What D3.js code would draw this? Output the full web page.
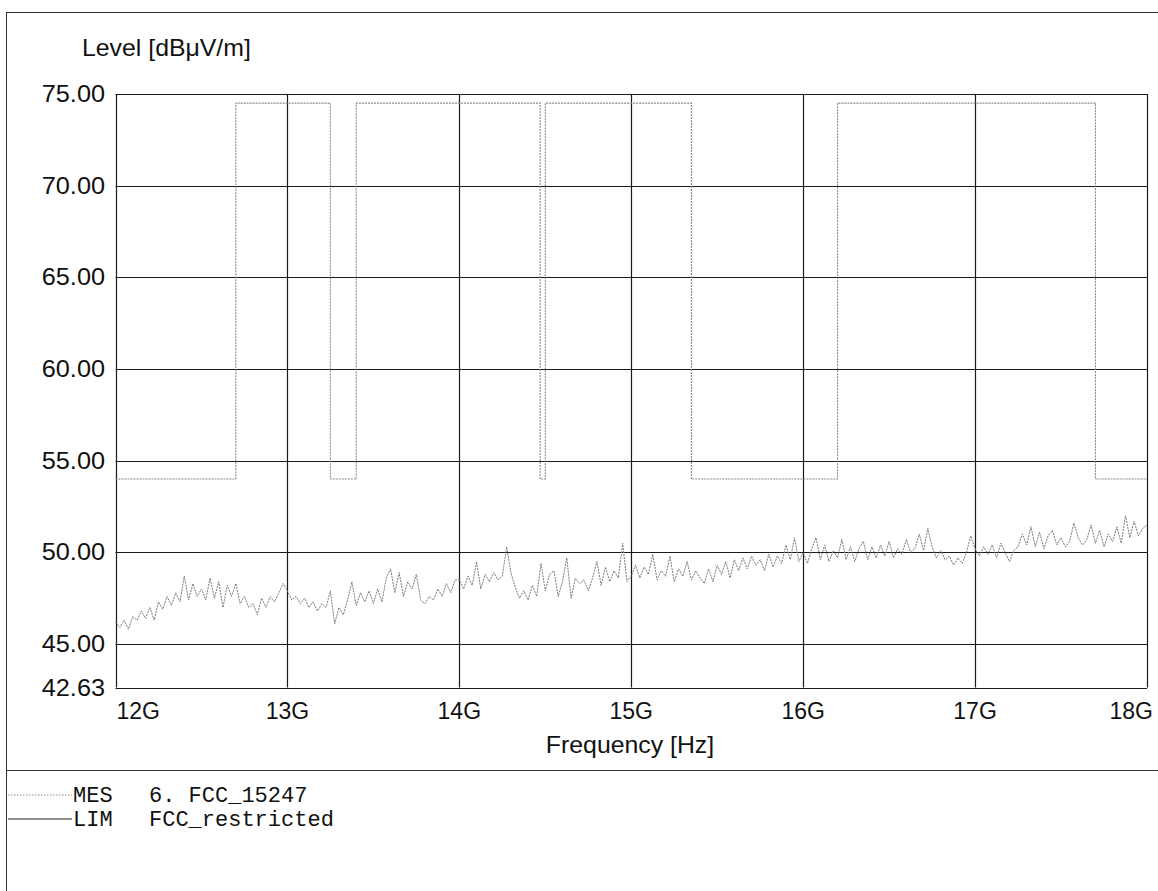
<!DOCTYPE html>
<html><head><meta charset="utf-8">
<script src="https://cdn.jsdelivr.net/npm/d3@7"></script>
<style>
html,body{margin:0;padding:0;background:#fff;}
svg{display:block;}
text{font-family:"Liberation Sans",Arial,sans-serif;fill:#111;}
.mono{font-family:"Liberation Mono","Courier New",monospace;}
</style></head>
<body>
<svg id="chart" width="1158" height="891"></svg>
<script>
// ---- data ----
const xTickValues = [12, 13, 14, 15, 16, 17, 18];
const xTickLabels = ["12G", "13G", "14G", "15G", "16G", "17G", "18G"];
const yTickValues = [75, 70, 65, 60, 55, 50, 45, 42.63];
const yTickLabels = ["75.00", "70.00", "65.00", "60.00", "55.00", "50.00", "45.00", "42.63"];

// limit line FCC_restricted (step after)
const limFreqGHz = [12, 12.7, 13.25, 13.4, 14.47, 14.5, 15.35, 16.2, 17.7, 18];
const limLevel   = [54, 74.5, 54, 74.5, 54, 74.5, 54, 74.5, 54, 54];

// measurement sweep MES 6. FCC_15247 (12 GHz .. 18 GHz, 0.025 GHz spacing)
const mesStartGHz = 12;
const mesStepGHz = 0.025;
const mesLevel = [
 46.2,45.9,46.3,45.8,46.5,46.3,46.8,46.4,47.0,46.3,47.3,46.9,47.6,47.1,47.8,47.3,48.7,47.4,48.3,47.6,
 48.0,47.4,48.6,47.5,48.4,47.0,48.2,47.6,48.3,47.2,47.6,47.0,47.2,46.6,47.5,47.0,47.6,47.3,47.8,48.3,
 47.9,47.4,47.6,47.2,47.5,47.0,47.3,46.8,47.2,47.0,47.9,46.1,47.0,46.6,47.4,48.4,47.1,47.8,47.3,47.9,
 47.2,48.0,47.3,48.6,49.1,47.8,48.9,47.6,48.4,48.0,48.8,47.4,47.2,47.6,47.4,48.0,47.6,48.3,47.8,48.5,
 48.5,48.0,48.7,48.2,49.5,48.0,48.8,48.4,48.9,48.5,48.7,50.3,48.9,48.1,47.5,47.9,47.4,48.2,47.6,49.4,
 47.9,48.8,49.0,47.6,48.4,49.7,47.5,48.6,48.3,48.5,47.9,48.6,49.5,48.2,49.2,48.4,49.0,48.6,50.5,48.4,
 48.7,49.3,48.6,49.2,48.8,49.9,48.5,49.0,48.7,49.8,48.4,49.1,48.7,49.5,48.5,49.0,48.6,48.3,49.1,48.4,
 49.3,48.8,49.5,48.6,49.6,49.0,49.7,49.1,49.8,49.3,49.6,49.0,49.9,49.2,49.8,49.4,50.4,49.6,50.8,49.5,
 50.0,49.4,50.2,50.8,49.6,50.4,49.5,50.1,49.7,50.7,49.6,50.3,49.5,50.2,50.6,49.6,50.3,49.7,50.4,49.8,
 50.6,49.7,50.2,49.9,50.7,50.0,50.2,51.0,50.1,51.3,50.3,49.7,50.1,49.6,49.8,49.3,49.7,49.4,50.0,50.9,
 50.2,49.8,50.3,49.9,50.4,49.7,50.5,50.0,49.5,50.1,50.3,51.0,50.4,51.4,50.3,51.1,50.2,50.9,51.2,50.4,
 50.8,50.3,50.6,51.6,50.8,50.4,50.7,51.5,50.5,51.2,50.3,51.0,50.6,51.4,50.5,52.0,50.8,51.7,50.9,51.3,
 51.5
];

// ---- layout ----
const svg = d3.select("#chart");
const plotL = 115.5, plotR = 1147, plotT = 94, plotB = 687.5;
const x = d3.scaleLinear().domain([12, 18]).range([plotL, plotR]);
const y = d3.scaleLinear().domain([42.63, 75]).range([plotB, plotT]);

// outer frame
svg.append("line").attr("x1",6).attr("x2",1158).attr("y1",12.5).attr("y2",12.5).attr("stroke","#333").attr("stroke-width",1);
svg.append("line").attr("x1",6.5).attr("x2",6.5).attr("y1",12).attr("y2",891).attr("stroke","#333").attr("stroke-width",1);
svg.append("line").attr("x1",6).attr("x2",1158).attr("y1",770.5).attr("y2",770.5).attr("stroke","#333").attr("stroke-width",1);

// grid
const g = svg.append("g");
g.selectAll("line.h").data(yTickValues).join("line")
  .attr("x1", plotL).attr("x2", plotR)
  .attr("y1", d => Math.round(y(d)) + 0.5).attr("y2", d => Math.round(y(d)) + 0.5)
  .attr("stroke", "#1a1a1a").attr("stroke-width", 1.2);
g.selectAll("line.v").data(xTickValues).join("line")
  .attr("x1", d => Math.round(x(d)) + 0.5).attr("x2", d => Math.round(x(d)) + 0.5)
  .attr("y1", plotT).attr("y2", plotB)
  .attr("stroke", "#1a1a1a").attr("stroke-width", 1.2);

// y tick labels
svg.selectAll("text.yt").data(yTickValues).join("text")
  .attr("class","yt")
  .attr("transform", d => `translate(105,${y(d) + 8}) scale(1.1,1)`)
  .attr("text-anchor","end")
  .attr("font-size", 23)
  .text((d,i) => yTickLabels[i]);

// x tick labels
svg.selectAll("text.xt").data(xTickValues).join("text")
  .attr("class","xt")
  .attr("x", (d,i) => i === 0 ? x(d) + 1 : (i === xTickValues.length-1 ? x(d) + 6 : x(d)))
  .attr("y", 719)
  .attr("text-anchor", (d,i) => i === 0 ? "start" : (i === xTickValues.length-1 ? "end" : "middle"))
  .attr("font-size", 23)
  .text((d,i) => xTickLabels[i]);

// axis titles
svg.append("text").attr("transform", "translate(82,56) scale(1.08,1)").attr("font-size", 23).text("Level [dBμV/m]");
svg.append("text").attr("transform", "translate(630,753) scale(1.08,1)").attr("text-anchor","middle").attr("font-size", 23).text("Frequency [Hz]");

// limit line
const limData = limFreqGHz.map((f,i) => [f, limLevel[i]]);
svg.append("path").datum(limData)
  .attr("fill","none").attr("stroke","#8a8a8a").attr("stroke-width",1.1).attr("stroke-dasharray","2,1")
  .attr("d", d3.line().x(d => x(d[0])).y(d => y(d[1])).curve(d3.curveStepAfter));

// measurement trace
const mesData = mesLevel.map((v,i) => [mesStartGHz + i*mesStepGHz, v]);
svg.append("path").datum(mesData)
  .attr("fill","none").attr("stroke","#7a7a7a").attr("stroke-width",1).attr("stroke-dasharray","2,1")
  .attr("d", d3.line().x(d => x(d[0])).y(d => y(d[1])));

// legend
const legendItems = [
  {code:"MES", name:"6. FCC_15247", dash:"1.5,1.5", color:"#888", yy:795},
  {code:"LIM", name:"FCC_restricted", dash:null, color:"#222", yy:819}
];
const lg = svg.append("g");
legendItems.forEach(it => {
  lg.append("line").attr("x1", 8).attr("x2", 72).attr("y1", it.yy).attr("y2", it.yy)
    .attr("stroke", it.color).attr("stroke-width", 1).attr("stroke-dasharray", it.dash);
  lg.append("text").attr("class","mono").attr("x", 73).attr("y", it.yy + 7).attr("font-size", 22).text(it.code);
  lg.append("text").attr("class","mono").attr("x", 149).attr("y", it.yy + 7).attr("font-size", 22).text(it.name);
});
</script>
</body></html>
